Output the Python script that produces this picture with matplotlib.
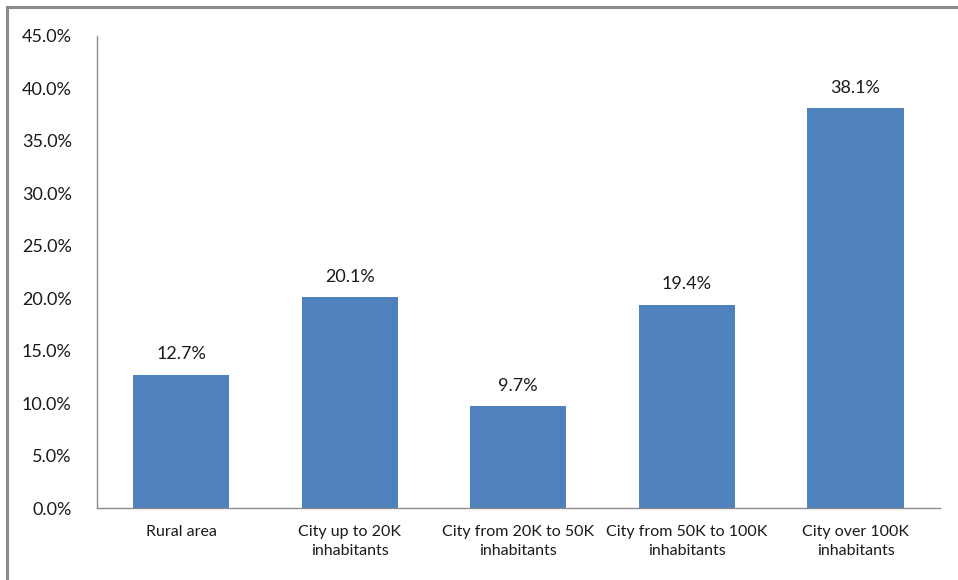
import matplotlib.pyplot as plt
from matplotlib.patches import Rectangle
from matplotlib.ticker import FuncFormatter

# Share of respondents by place of residence
categories = ["Rural area", "City up to 20K\ninhabitants", "City from 20K to 50K\ninhabitants",
              "City from 50K to 100K\ninhabitants", "City over 100K\ninhabitants"]
shares = [12.7, 20.1, 9.7, 19.4, 38.1]
yticks = [0, 5, 10, 15, 20, 25, 30, 35, 40, 45]

plt.rcParams['font.family'] = ['Lato', 'DejaVu Sans']

fig = plt.figure(figsize=(9.58, 5.8), dpi=100)
ax = fig.add_axes([0.101, 0.124, 0.880, 0.814])

x = range(len(categories))
bars = ax.bar(x, shares, width=0.57, color='#4F81BD', zorder=2)

for bar, v in zip(bars, shares):
    ax.annotate(f"{v:.1f}%", (bar.get_x() + bar.get_width() / 2, v),
                xytext=(0, 9), textcoords='offset points',
                ha='center', va='bottom', fontsize=13, color='#1a1a1a')

ax.set_xlim(-0.5, len(categories) - 0.5)
ax.set_ylim(0, 45)
ax.set_yticks(yticks)
ax.yaxis.set_major_formatter(FuncFormatter(lambda v, _: f"{v:.1f}%"))
ax.set_xticks(list(x))
ax.set_xticklabels(categories, fontsize=11.5, color='#1a1a1a', linespacing=1.45)
ax.tick_params(axis='y', labelsize=13, labelcolor='#1a1a1a', length=0, pad=18)
ax.tick_params(axis='x', length=0, pad=12)

for side in ('top', 'right'):
    ax.spines[side].set_visible(False)
for side in ('left', 'bottom'):
    ax.spines[side].set_color('#8c8c8c')
    ax.spines[side].set_linewidth(1.0)

# outer frame around the chart area
fig.patches.append(Rectangle((7 / 958, -0.1), 1.2, 1 - 7 / 580 + 0.1,
                             transform=fig.transFigure, fill=False,
                             edgecolor='#8a8a8a', linewidth=2.2))

fig.savefig("out.png", dpi=100)
